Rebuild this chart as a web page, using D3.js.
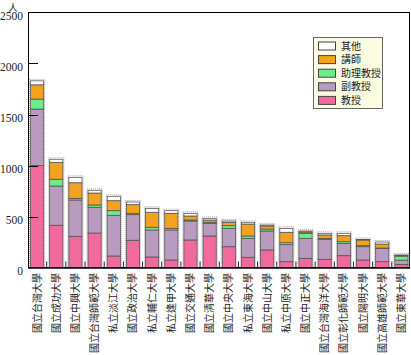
<!DOCTYPE html>
<html><head><meta charset="utf-8">
<script src="https://cdn.jsdelivr.net/npm/d3@7"></script>
<style>body{margin:0;background:#fff}svg{display:block}</style>
</head><body>
<script>
const categories = ["國立台灣大學","國立成功大學","國立中興大學","國立台灣師範大學","私立淡江大學","國立政治大學","私立輔仁大學","私立逢甲大學","國立交通大學","國立清華大學","國立中央大學","私立東海大學","國立中山大學","私立中原大學","國立中正大學","國立台灣海洋大學","國立彰化師範大學","國立陽明大學","國立高雄師範大學","國立東華大學"];
const seriesNames = ["教授","副教授","助理教授","講師","其他"];
const professor  = [1000,414,306,338,113,267,103,74,270,309,204,100,172,57,90,80,116,74,57,30];
const associate  = [553,385,356,252,399,251,265,294,186,124,180,186,186,167,196,196,121,130,131,42];
const assistant  = [98,66,16,23,45,13,26,16,10,10,26,23,19,19,49,10,16,10,3,40];
const lecturer   = [140,166,153,117,98,85,147,147,39,22,33,117,30,102,13,33,59,56,39,3];
const other      = [39,30,53,27,43,26,39,26,26,17,13,17,10,39,10,16,23,6,20,8];
const yTicks = [0,500,1000,1500,2000,2500];
const colors = ["#f06a9e","#b99bc0","#6aee8c","#f2a21e","#ffffff"];

const W=411,H=355;
const svg=d3.select("body").append("svg").attr("width",W).attr("height",H);
const x=d3.scaleBand().domain(categories).range([27.5,411]).paddingInner(0.26).paddingOuter(0.13);
const y=d3.scaleLinear().domain([0,2500]).range([267.5,12.5]);

const table=categories.map((c,i)=>({cat:c,"教授":professor[i],"副教授":associate[i],"助理教授":assistant[i],"講師":lecturer[i],"其他":other[i]}));
const stack=d3.stack().keys(seriesNames)(table);

// frame
svg.append("rect").attr("x",28.5).attr("y",12.5).attr("width",381).attr("height",255)
  .attr("fill","none").attr("stroke","#000").attr("stroke-width",1);

// bars
const g=svg.append("g");
g.selectAll("rect.sh").data(table).join("rect").attr("class","sh")
  .attr("x",d=>x(d.cat)-0.5).attr("width",x.bandwidth()+1)
  .attr("y",d=>y(d3.sum(seriesNames,k=>d[k]))-1.5)
  .attr("height",d=>y(0)-y(d3.sum(seriesNames,k=>d[k]))+1.5)
  .attr("fill","none").attr("stroke","#aaa").attr("stroke-width",1).attr("stroke-dasharray","1,1");
stack.forEach((s,si)=>{
  g.selectAll("rect.s"+si).data(s).join("rect").attr("class","s"+si)
    .attr("x",d=>x(d.data.cat)+0.5).attr("width",x.bandwidth()-1)
    .attr("y",d=>y(d[1])).attr("height",d=>Math.max(0,y(d[0])-y(d[1])))
    .attr("fill",colors[si]).attr("stroke","#555").attr("stroke-width",0.8);
});

// category ticks between bars
const step=x.step();
const tickPos=categories.slice(1).map(c=>x(c)-step*0.13);
svg.selectAll("line.xt").data(tickPos).join("line").attr("class","xt")
  .attr("x1",d=>d).attr("x2",d=>d).attr("y1",y(0)).attr("y2",y(0)-6)
  .attr("stroke","#222").attr("stroke-width",1);

// y ticks
svg.selectAll("line.yt").data(yTicks.slice(1,-1)).join("line").attr("class","yt")
  .attr("x1",28.5).attr("x2",38).attr("y1",d=>Math.round(y(d))+0.5).attr("y2",d=>Math.round(y(d))+0.5)
  .attr("stroke","#000");
svg.selectAll("text.yl").data(yTicks).join("text").attr("class","yl")
  .attr("x",23).attr("y",d=>y(d)+3).attr("dy","0.35em").attr("text-anchor","end")
  .attr("font-family","Liberation Serif, serif").attr("font-size",11.5).attr("fill","#222").text(d=>d);
// baseline
svg.append("line").attr("x1",28).attr("x2",410).attr("y1",268).attr("y2",268).attr("stroke","#000").attr("stroke-width",1.5);
// unit
svg.append("text").attr("x",13).attr("y",11).attr("text-anchor","middle")
  .attr("font-family","Noto Sans CJK TC").attr("font-size",9.5).attr("fill","#222").text("人");

// x labels
svg.selectAll("text.xl").data(categories).join("text").attr("class","xl")
  .attr("transform",d=>`translate(${x(d)+x.bandwidth()/2},273) rotate(-90)`)
  .attr("text-anchor","end").attr("dy","0.35em").attr("fill","#222")
  .attr("font-family","Noto Sans CJK TC").attr("font-size",10).text(d=>d);

// legend
const lg=svg.append("g");
lg.append("rect").attr("x",313.5).attr("y",37.5).attr("width",69).attr("height",71)
  .attr("fill","#fbfbe2").attr("stroke","#666").attr("stroke-width",1);
const legendOrder=[4,3,2,1,0];
legendOrder.forEach((si,i)=>{
  const cy=46+i*13.6;
  lg.append("rect").attr("x",318.5).attr("y",cy-4).attr("width",17).attr("height",8)
    .attr("fill",colors[si]).attr("stroke","#444").attr("stroke-width",1);
  lg.append("text").attr("x",341).attr("y",cy).attr("dy","0.35em").attr("fill","#222")
    .attr("font-family","Noto Sans CJK TC").attr("font-size",10).text(seriesNames[si]);
});
</script>
</body></html>
